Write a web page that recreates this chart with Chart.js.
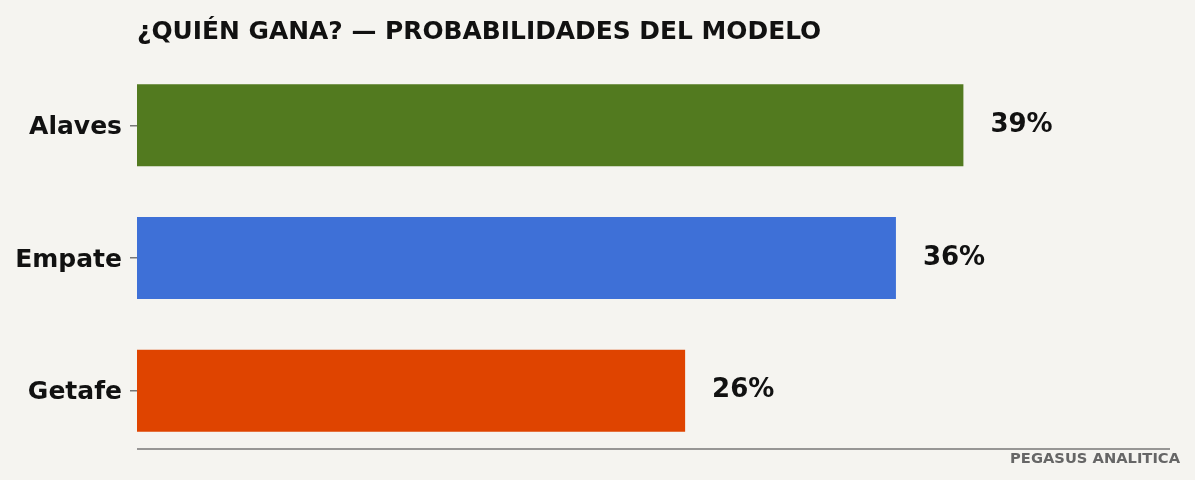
<!DOCTYPE html>
<html><head><meta charset="utf-8">
<script src="https://cdn.jsdelivr.net/npm/chart.js@4"></script>
<style>html,body{margin:0;background:#f5f4f0;}#w{width:1195px;height:480px;position:relative;}</style>
</head><body><div id="w"><canvas id="c"></canvas></div>
<script>
const categories = ["Alaves", "Empate", "Getafe"];
const values = [39.2, 36.0, 26.0];
const labels = ["39%", "36%", "26%"];
const colors = ["#527a1f", "#3e70d7", "#df4400"];
const titleText = "¿QUIÉN GANA? — PROBABILIDADES DEL MODELO";
const watermark = "PEGASUS ANALITICA";
const FONT = "'DejaVu Sans', sans-serif";

const deco = {
  id: 'deco',
  afterDatasetsDraw(chart) {
    const ctx = chart.ctx, ca = chart.chartArea;
    const meta = chart.getDatasetMeta(0);
    ctx.save();
    ctx.fillStyle = '#111';
    ctx.font = "bold 26px " + FONT;
    ctx.textBaseline = 'middle';
    meta.data.forEach((b, i) => ctx.fillText(labels[i], b.x + 27, b.y));
    ctx.font = "bold 24.9px " + FONT;
    ctx.textBaseline = 'alphabetic';
    ctx.fillText(titleText, ca.left, 39);
    ctx.strokeStyle = '#777'; ctx.lineWidth = 1.5;
    ctx.beginPath(); ctx.moveTo(ca.left, 449); ctx.lineTo(1170, 449); ctx.stroke();
    ctx.fillStyle = '#666'; ctx.font = "bold 14.7px " + FONT; ctx.textAlign = 'right';
    ctx.fillText(watermark, 1180, 463);
    ctx.restore();
  }
};

new Chart(document.getElementById('c'), {
  type: 'bar',
  data: { labels: categories, datasets: [{ data: values, backgroundColor: colors, barPercentage: 0.618, categoryPercentage: 1 }] },
  options: {
    indexAxis: 'y', responsive: true, maintainAspectRatio: false, animation: false,
    layout: { padding: { top: 59, right: 25, bottom: 23, left: 0 } },
    plugins: { legend: { display: false }, tooltip: { enabled: false } },
    scales: {
      x: { min: 0, max: 49, display: false },
      y: {
        afterFit(s) { s.width = 137; },
        grid: { display: true, offset: false, drawOnChartArea: false, drawTicks: true, tickLength: 7, color: '#777', lineWidth: 1.5 },
        border: { display: false },
        ticks: { color: '#111', font: { family: FONT, size: 25, weight: 'bold' }, padding: 8 , labelOffset: 2 }
      }
    }
  },
  plugins: [deco]
});
</script></body></html>
